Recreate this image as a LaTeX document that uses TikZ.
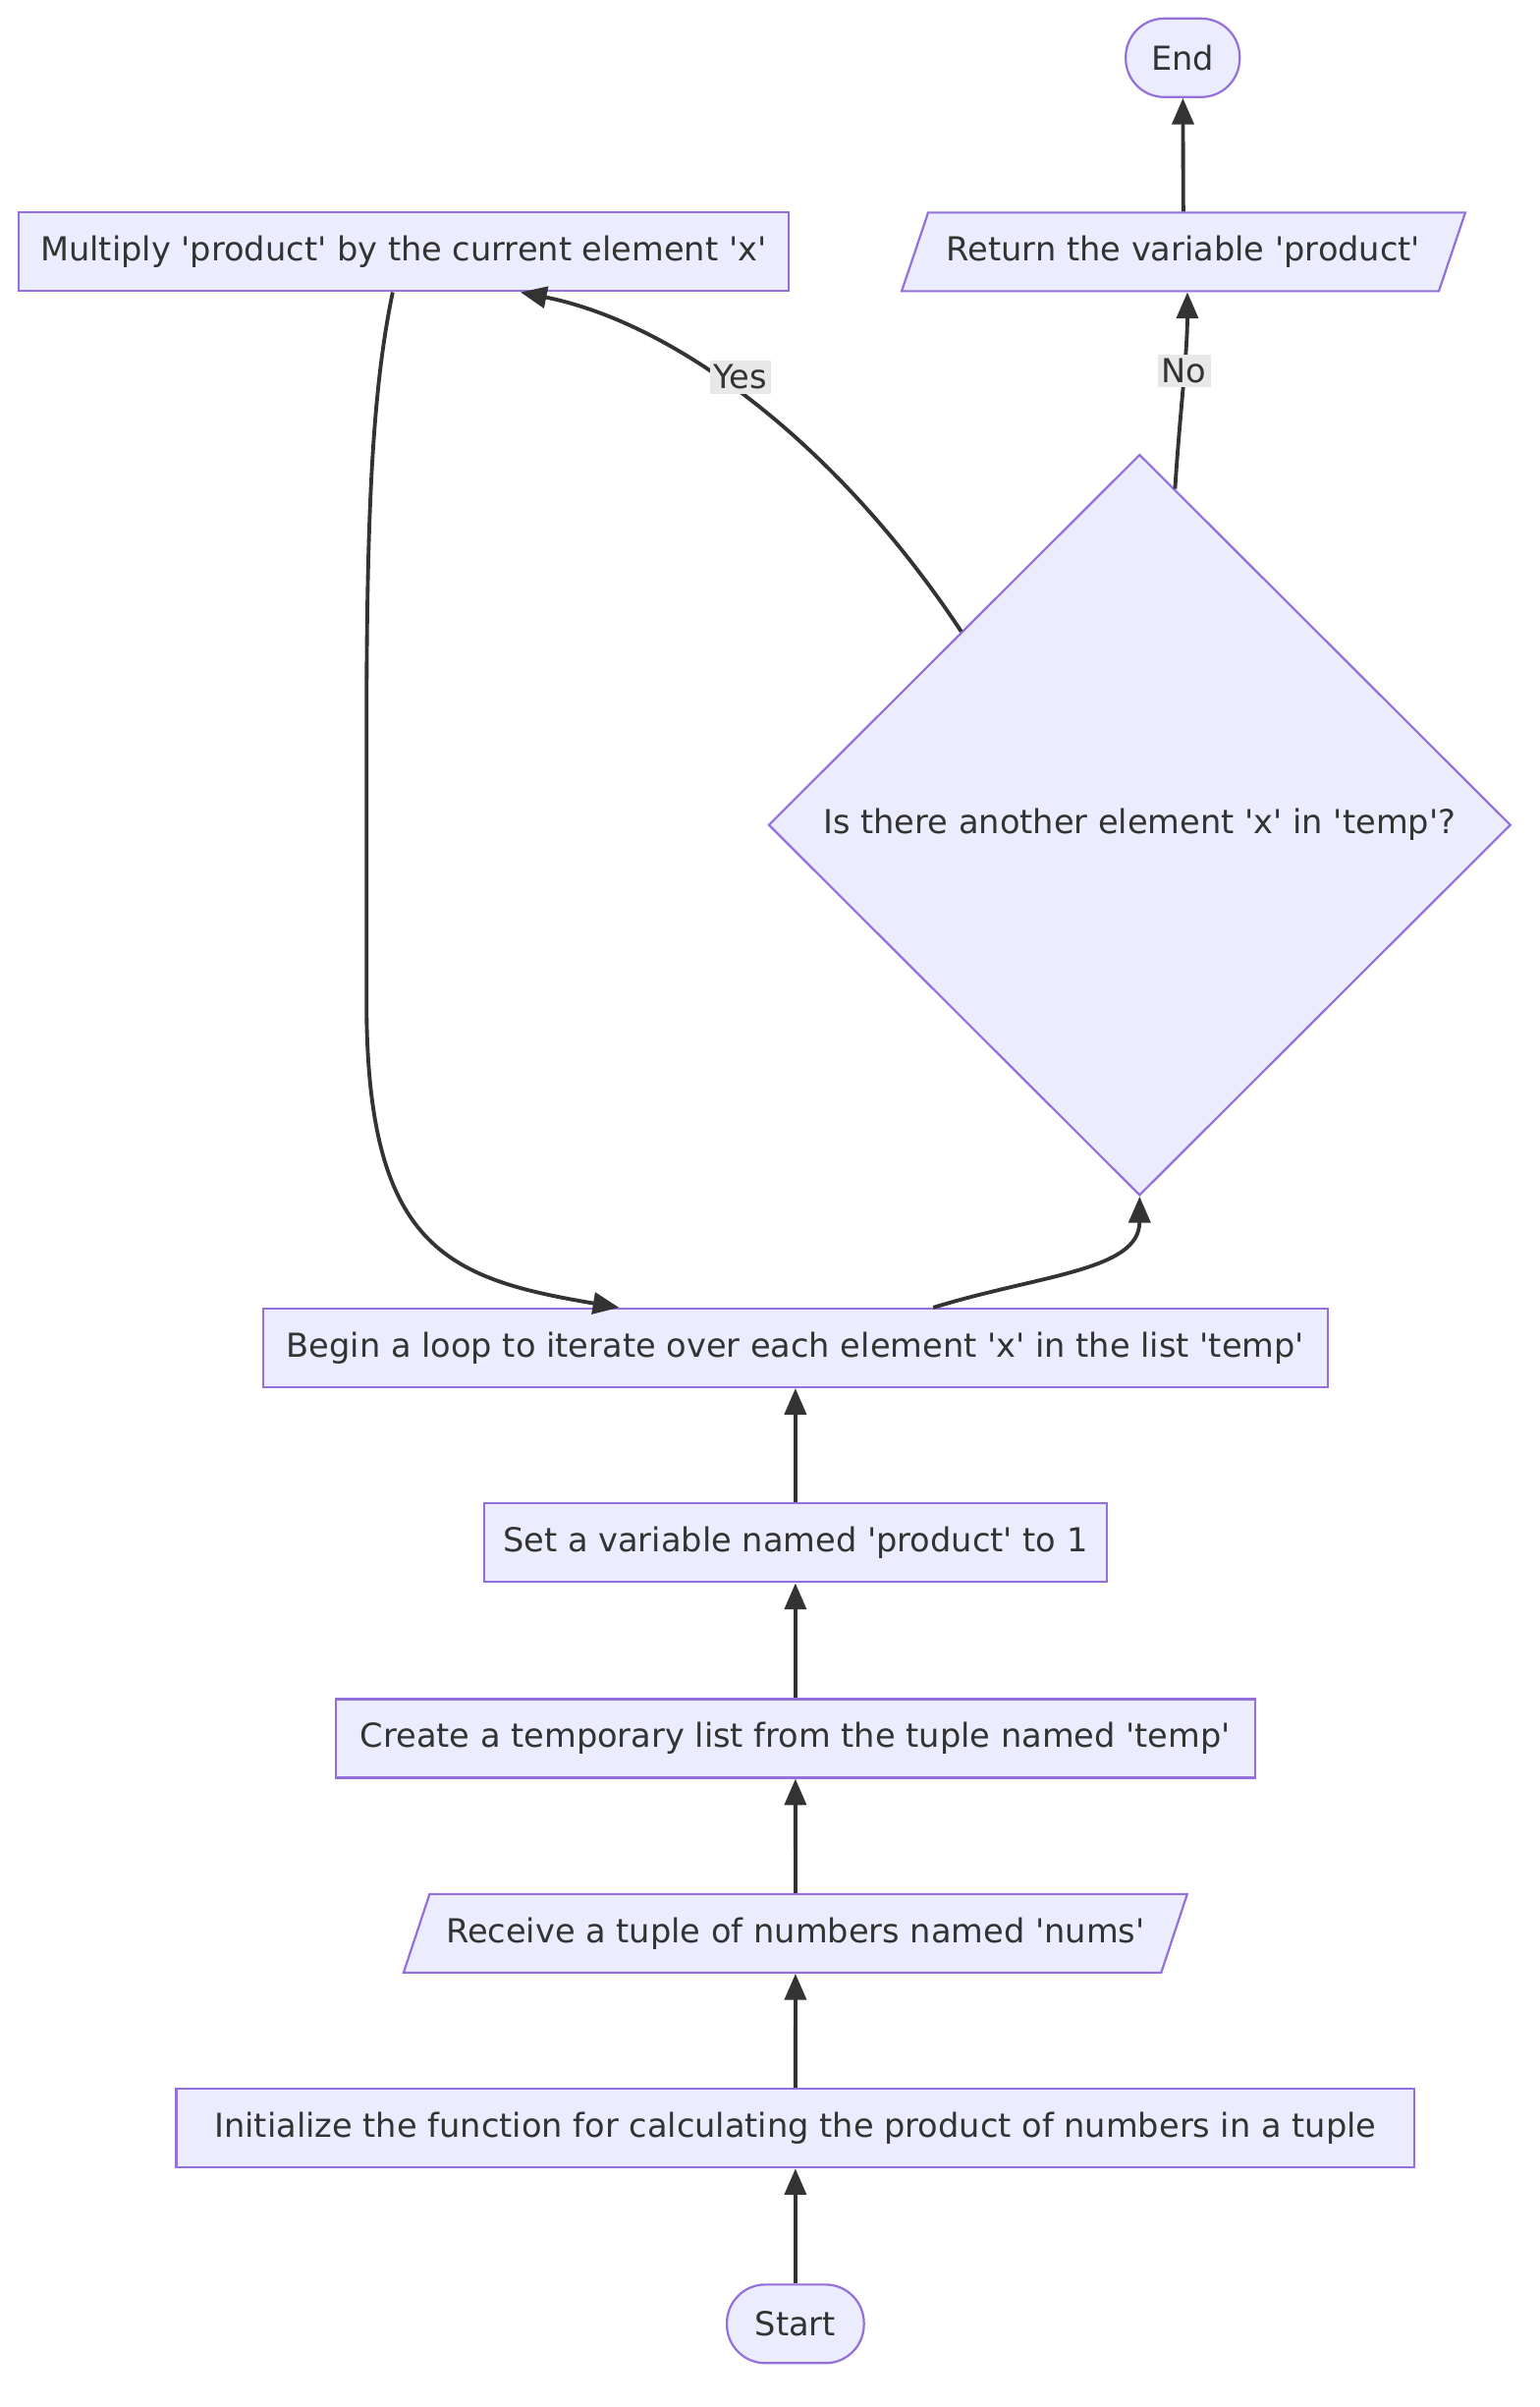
\documentclass[tikz,border=0pt]{standalone}
\usepackage{fontspec}
\setmainfont[Ligatures=TeXOff]{DejaVu Sans}
\usetikzlibrary{shapes.geometric, arrows.meta}

\definecolor{boxfill}{HTML}{ECECFF}
\definecolor{boxline}{HTML}{9370DB}
\definecolor{edgeline}{HTML}{333333}
\definecolor{labelbg}{HTML}{E8E8E8}

\tikzset{
  box/.style={rectangle, draw=boxline, fill=boxfill, line width=0.8pt,
    minimum height=1.02cm, text=edgeline, font=\fontsize{12.2}{14}\selectfont},
  term/.style={box, rounded corners=0.5cm, minimum width=1.48cm},
  io/.style={box, trapezium, trapezium left angle=63, trapezium right angle=117,
    trapezium stretches=true},
  decision/.style={box, diamond, aspect=1, minimum width=9.64cm,
    minimum height=9.62cm, inner sep=0pt},
  flow/.style={draw=edgeline, line width=1.4pt,
    -{Triangle[length=0.34cm, width=0.28cm]}},
  elabel/.style={fill=labelbg, text=edgeline, inner sep=1.5pt,
    font=\fontsize{12.2}{14}\selectfont}
}

\begin{document}
\begin{tikzpicture}

\useasboundingbox[fill=white] (0,0) rectangle (20,-31.25);

% Nodes
\node[term] (endn) at (15.36,-0.75) {End};
\node[box, minimum width=10cm] (multiply) at (5.24,-3.27) {Multiply 'product' by the current element 'x'};
\node[io, minimum width=7.34cm] (ret) at (15.37,-3.27) {Return the variable 'product'};
\node[decision] (question) at (14.8,-10.71) {Is there another element 'x' in 'temp'?};
\node[box, minimum width=13.82cm] (begin) at (10.33,-17.5) {Begin a loop to iterate over each element 'x' in the list 'temp'};
\node[box, minimum width=8.08cm] (setn) at (10.33,-20.03) {Set a variable named 'product' to 1};
\node[box, minimum width=11.94cm] (create) at (10.33,-22.57) {Create a temporary list from the tuple named 'temp'};
\node[io, minimum width=10.18cm] (receive) at (10.33,-25.1) {Receive a tuple of numbers named 'nums'};
\node[box, minimum width=16.08cm] (init) at (10.33,-27.63) {Initialize the function for calculating the product of numbers in a tuple};
\node[term, minimum width=1.78cm] (start) at (10.33,-30.17) {Start};

% Straight connectors
\draw[flow] (start) -- (init);
\draw[flow] (init) -- (receive);
\draw[flow] (receive) -- (create);
\draw[flow] (create) -- (setn);
\draw[flow] (setn) -- (begin);
\draw[flow] (ret) -- (endn);

% Loop
\draw[flow] ([xshift=1.79cm]begin.north) .. controls (13.5,-16.55) and (14.8,-16.5) .. (question.south);
\draw[flow] ([xshift=0.1cm, yshift=0.1cm]question.north west) .. controls (10.9,-5.8) and (8.8,-4.2) .. ([xshift=1.52cm]multiply.south)
  node[elabel, pos=0.53, yshift=0.22cm] {Yes};
\draw[flow] ([xshift=0.46cm, yshift=-0.46cm]question.north) .. controls (15.32,-5.4) and (15.42,-4.6) .. ([xshift=0.05cm]ret.south)
  node[elabel, pos=0.58] {No};
\draw[flow] ([xshift=-0.14cm]multiply.south) .. controls (4.85,-5.0) and (4.76,-6.5) .. (4.76,-9.5)
  -- (4.76,-13.0) .. controls (4.76,-16.2) and (5.8,-16.6) .. ([xshift=-2.29cm]begin.north);

\end{tikzpicture}
\end{document}
